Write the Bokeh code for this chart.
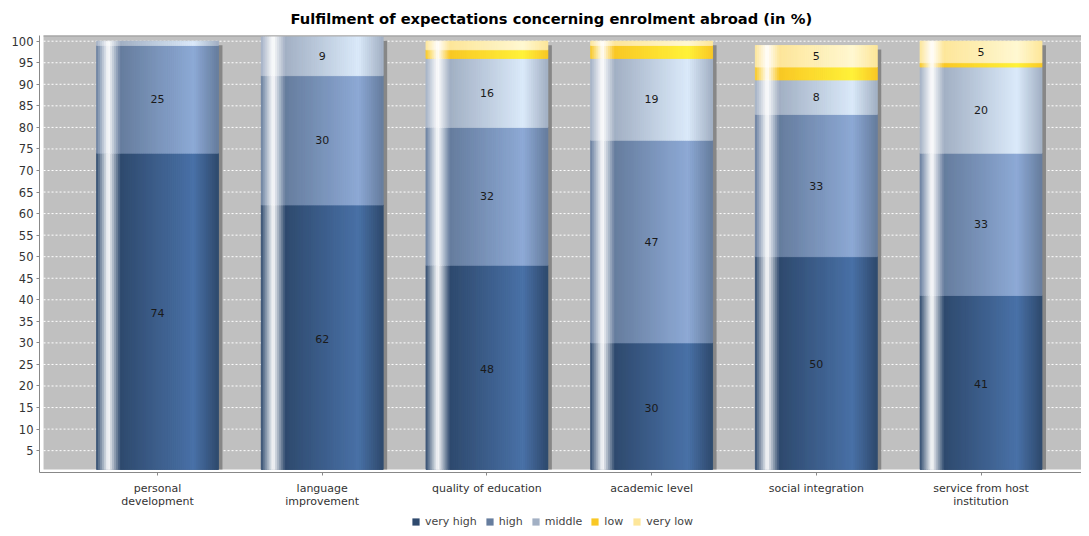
import numpy as np
from bokeh.plotting import figure
from bokeh.layouts import column
from bokeh.models import FixedTicker, Legend, LegendItem, ColumnDataSource, Range1d
from bokeh.embed import file_html
from bokeh.resources import INLINE
from bokeh.core.properties import value

# ---------------- data ----------------
categories = ["personal\ndevelopment", "language\nimprovement", "quality of education",
              "academic level", "social integration", "service from host\ninstitution"]
series_names = ["very high", "high", "middle", "low", "very low"]
very_high = [74, 62, 48, 30, 50, 41]
high = [25, 30, 32, 47, 33, 33]
middle = [1, 9, 16, 19, 8, 20]
low = [0, 0, 2, 3, 3, 1]
very_low = [0, 0, 2, 1, 5, 5]
y_ticks = list(range(5, 101, 5))
title_text = "Fulfilment of expectations concerning enrolment abroad (in %)"

series = [very_high, high, middle, low, very_low]

# ---------------- style ----------------
base_colors = ["#2f4a6e", "#667d9e", "#a2b0c4", "#f9c825", "#fde69a"]
bright_colors = ["#4a72a8", "#8eaad6", "#dbeafa", "#fff23a", "#fff8d2"]
FONT = "DejaVu Sans"
BAR_W = 0.74
N_STRIPS = 61
X0, X1 = -0.7165, 5.61
Y0, Y1 = -0.07, 101.32
BG_LEFT, BG_BOTTOM = -0.692, 0.63
SH_DX, SH_DY = 4 / 164.7, 4 / 4.32
W = 1081
H_MAIN, H_LEG = 511, 17


def hex2rgb(h):
    h = h.lstrip("#")
    return np.array([int(h[i:i + 2], 16) for i in (0, 2, 4)], dtype=float)


def rgb2hex(c):
    c = np.clip(np.round(c), 0, 255).astype(int)
    return "#%02x%02x%02x" % tuple(c)


def grad_color(c0, c1, f):
    white = np.array([255.0, 255.0, 255.0])
    if f < 0.1:
        t = f / 0.1
        return c0 + (white - c0) * t
    if f < 0.2:
        t = (f - 0.1) / 0.1
        return white + (c0 - white) * t
    if f < 0.8:
        t = (f - 0.2) / 0.6
        return c0 + (c1 - c0) * t
    t = (f - 0.8) / 0.2
    return c1 + (c0 - c1) * t


p = figure(width=W, height=H_MAIN, output_backend="svg", toolbar_location=None,
           x_range=Range1d(X0, X1), y_range=Range1d(Y0, Y1),
           min_border_left=39, min_border_right=0, min_border_top=34,
           min_border_bottom=H_MAIN - 472)
p.background_fill_color = "white"
p.border_fill_color = "white"
p.outline_line_color = None
p.grid.visible = False

p.title.text = title_text
p.title.text_font = FONT
p.title.text_font_size = "14.7px"
p.title.text_font_style = "bold"
p.title.text_color = "#000000"
p.title.align = "left"
p.title.offset = 251
p.title.vertical_align = "middle"
p.title.standoff = 16

# plot background, top border and grid
p.quad(left=[BG_LEFT], right=[X1 + 1], bottom=[BG_BOTTOM], top=[Y1 + 1],
       fill_color="#c0c0c0", line_color=None)
p.segment(x0=[BG_LEFT], x1=[X1 + 1], y0=[Y1], y1=[Y1], line_color="#999999", line_width=2)
p.segment(x0=[BG_LEFT] * len(y_ticks), x1=[X1 + 1] * len(y_ticks), y0=y_ticks, y1=y_ticks,
          line_color="#ffffff", line_width=1, line_dash="2 2")

n = len(categories)
xs = np.arange(n)
totals = np.sum(np.array(series), axis=0)

# shadows
p.quad(left=xs - BAR_W / 2 + SH_DX, right=xs + BAR_W / 2 + SH_DX,
       bottom=[BG_BOTTOM] * n, top=totals - SH_DY, fill_color="#878787", line_color=None)

strip_l, strip_r, strip_b, strip_t, strip_c = [], [], [], [], []
lab_x, lab_y, lab_t = [], [], []
bottoms = np.zeros(n)
for s, vals in enumerate(series):
    vals = np.array(vals, dtype=float)
    tops = bottoms + vals
    mask = vals > 0
    p.quad(left=(xs - BAR_W / 2)[mask], right=(xs + BAR_W / 2)[mask],
           bottom=np.maximum(bottoms, BG_BOTTOM)[mask], top=tops[mask],
           fill_color=base_colors[s], line_color=None)
    c0 = hex2rgb(base_colors[s])
    c1 = hex2rgb(bright_colors[s])
    for i in range(n):
        if vals[i] <= 0:
            continue
        for k in range(N_STRIPS):
            f = (k + 0.5) / N_STRIPS
            strip_l.append(i - BAR_W / 2 + BAR_W * k / N_STRIPS)
            strip_r.append(i - BAR_W / 2 + BAR_W * (k + 1) / N_STRIPS)
            strip_b.append(max(bottoms[i], BG_BOTTOM))
            strip_t.append(tops[i])
            strip_c.append(rgb2hex(grad_color(c0, c1, f)))
        if vals[i] >= 5:
            lab_x.append(i)
            lab_y.append((bottoms[i] + tops[i]) / 2)
            lab_t.append("%d" % vals[i])
    bottoms = tops

src = ColumnDataSource(dict(left=strip_l, right=strip_r, bottom=strip_b, top=strip_t, color=strip_c))
p.quad(left="left", right="right", bottom="bottom", top="top", fill_color="color",
       line_color="color", line_width=0.8, source=src)

p.text(x=lab_x, y=lab_y, text=lab_t, text_align="center", text_baseline="middle",
       text_font=value(FONT), text_font_size="11px", text_color="#1a1a1a")

# axes
yax = p.yaxis[0]
yax.ticker = FixedTicker(ticks=y_ticks)
yax.minor_tick_line_color = None
yax.major_tick_in = 0
yax.major_tick_out = 3
yax.major_tick_line_color = "#888888"
yax.axis_line_color = "#888888"
yax.major_label_text_font = FONT
yax.major_label_text_font_size = "11.5px"
yax.major_label_text_color = "#333333"
yax.major_label_standoff = 3

xax = p.xaxis[0]
xax.ticker = FixedTicker(ticks=list(range(n)))
xax.major_label_overrides = {i: categories[i] for i in range(n)}
xax.minor_tick_line_color = None
xax.major_tick_in = 0
xax.major_tick_out = 3
xax.major_tick_line_color = "#888888"
xax.axis_line_color = "#888888"
xax.major_label_text_font = FONT
xax.major_label_text_font_size = "11px"
xax.major_label_text_line_height = 1.0
xax.major_label_text_color = "#333333"
xax.major_label_standoff = 6

# ---------------- legend strip ----------------
p2 = figure(width=W, height=H_LEG, output_backend="svg", toolbar_location=None,
            x_range=Range1d(0, W), y_range=Range1d(0, H_LEG),
            min_border=0, min_border_left=0, min_border_right=0,
            min_border_top=0, min_border_bottom=0)
p2.axis.visible = False
p2.grid.visible = False
p2.outline_line_color = None
p2.background_fill_color = "white"
p2.border_fill_color = "white"
legend_items = []
for s in range(len(series_names)):
    # legend key renderer kept outside the visible range of the strip
    r = p2.quad(left=[-20], right=[-10], bottom=[-20], top=[-10],
                fill_color=base_colors[s], line_color=None)
    legend_items.append(LegendItem(label=series_names[s], renderers=[r]))

legend = Legend(items=legend_items, orientation="horizontal", location=(372, 0),
                border_line_color=None, background_fill_alpha=0,
                label_text_font=FONT, label_text_font_size="11px", label_text_color="#444444",
                glyph_width=9, glyph_height=9, label_standoff=5, spacing=8,
                padding=0, margin=0, label_height=12)
p2.add_layout(legend, "center")

open("out.html", "w").write(file_html(column(p, p2, spacing=0), INLINE))
